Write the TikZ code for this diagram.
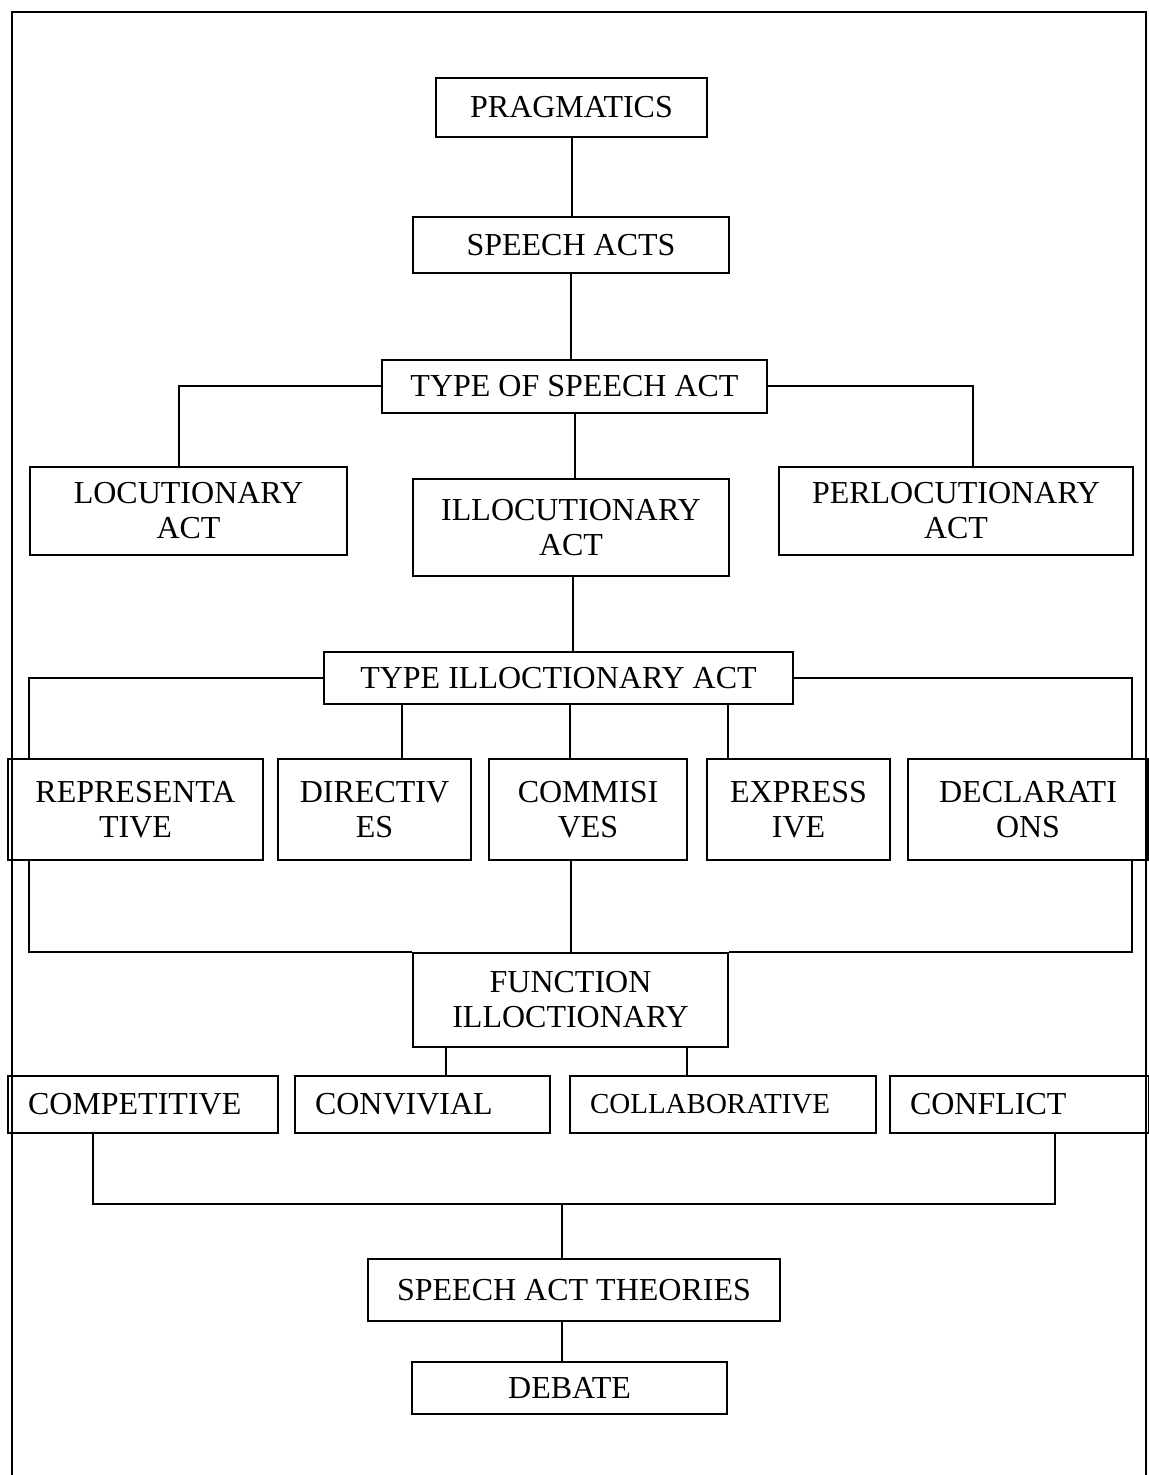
\documentclass[tikz,border=0pt]{standalone}
\usepackage{fontspec}
\setmainfont{Liberation Serif}
\begin{document}
\begin{tikzpicture}[x=0.5pt,y=-0.5pt,
  box/.style={draw, line width=1pt, inner sep=0pt, align=center, font=\fontsize{16pt}{17.5pt}\selectfont},
  sz/.style 2 args={minimum width=#1*0.5pt, minimum height=#2*0.5pt},
  lbox/.style 2 args={draw, line width=1pt, inner ysep=0pt, inner xsep=10pt, text width=#1, align=left, minimum height=#2*0.5pt, font=\fontsize{16pt}{17.5pt}\selectfont},
  conn/.style={line width=1pt}]
\useasboundingbox (0,0) rectangle (1149,1475);
% outer frame (open at the bottom)
\draw[line width=1pt] (12,1476) |- (1146,12) -- (1146,1476);

\node[box, sz={271}{59}] (prag) at (571.5,107.5) {PRAGMATICS};
\node[box, sz={316}{56}] (speech) at (571,245) {SPEECH ACTS};
\node[box, sz={385}{53}] (type1) at (574.5,386.5) {TYPE OF SPEECH ACT};
\node[box, sz={317}{88}] (loc) at (188.5,511) {LOCUTIONARY\\ACT};
\node[box, sz={316}{97}] (illoc) at (571,527.5) {ILLOCUTIONARY\\ACT};
\node[box, sz={354}{88}] (perl) at (956,511) {PERLOCUTIONARY\\ACT};
\node[box, sz={469}{52}] (type2) at (558.5,678) {TYPE ILLOCTIONARY ACT};
\node[box, sz={255}{101}] (rep) at (135.5,809.5) {REPRESENTA\\TIVE};
\node[box, sz={193}{101}] (dir) at (374.5,809.5) {DIRECTIV\\ES};
\node[box, sz={198}{101}] (comm) at (588,809.5) {COMMISI\\VES};
\node[box, sz={183}{101}] (expr) at (798.5,809.5) {EXPRESS\\IVE};
\node[box, sz={240}{101}] (decl) at (1028,809.5) {DECLARATI\\ONS};
\node[box, sz={315}{94}] (func) at (570.5,1000) {FUNCTION\\ILLOCTIONARY};
\node[lbox={115pt}{57}] (comp) at (143,1104.5) {COMPETITIVE};
\node[lbox={107.5pt}{57}] (conv) at (422.5,1104.5) {CONVIVIAL};
\node[lbox={133pt}{57}, font=\fontsize{14.5pt}{17pt}\selectfont] (coll) at (723,1104.5) {COLLABORATIVE};
\node[lbox={109.5pt}{57}] (conf) at (1019.5,1104.5) {CONFLICT};
\node[box, sz={412}{62}] (theo) at (574,1290) {SPEECH ACT THEORIES};
\node[box, sz={315}{52}] (deb) at (569.5,1388) {DEBATE};

% connectors
\draw[conn] (prag.south) -- (prag.south |- speech.north);
\draw[conn] (speech.south) -- (speech.south |- type1.north);
\draw[conn] (type1.west) -| ([xshift=-5pt]loc.north);
\draw[conn] (type1.east) -| ([xshift=8.5pt]perl.north);
\draw[conn] (type1.south) -- (type1.south |- illoc.north);
\draw[conn] ([xshift=1pt]illoc.south) -- ([xshift=1pt]illoc.south |- type2.north);
\draw[conn] (type2.west) -| ([xshift=11pt]rep.north west);
\draw[conn] (type2.east) -| ([xshift=-8.5pt]decl.north east);
\draw[conn] ([xshift=13.75pt]dir.north) -- ([xshift=13.75pt]dir.north |- type2.south);
\draw[conn] ([xshift=-9pt]comm.north) -- ([xshift=-9pt]comm.north |- type2.south);
\draw[conn] ([xshift=-35.25pt]expr.north) -- ([xshift=-35.25pt]expr.north |- type2.south);
\draw[conn] ([xshift=11pt]rep.south west) |- (func.north west);
\draw[conn] ([xshift=-8.5pt]decl.south east) |- (func.north east);
\draw[conn] (comm.south -| func.north) -- (func.north);
\draw[conn] ([xshift=11.75pt]conv.north) -- ([xshift=11.75pt]conv.north |- func.south);
\draw[conn] ([xshift=-18pt]coll.north) -- ([xshift=-18pt]coll.north |- func.south);
\coordinate (bj) at (562,1204);
\draw[conn] ([xshift=-25pt]comp.south) |- (bj) -| ([xshift=17.75pt]conf.south);
\draw[conn] (bj) -- (bj |- theo.north);
\draw[conn] (bj |- theo.south) -- (bj |- deb.north);
\end{tikzpicture}
\end{document}
